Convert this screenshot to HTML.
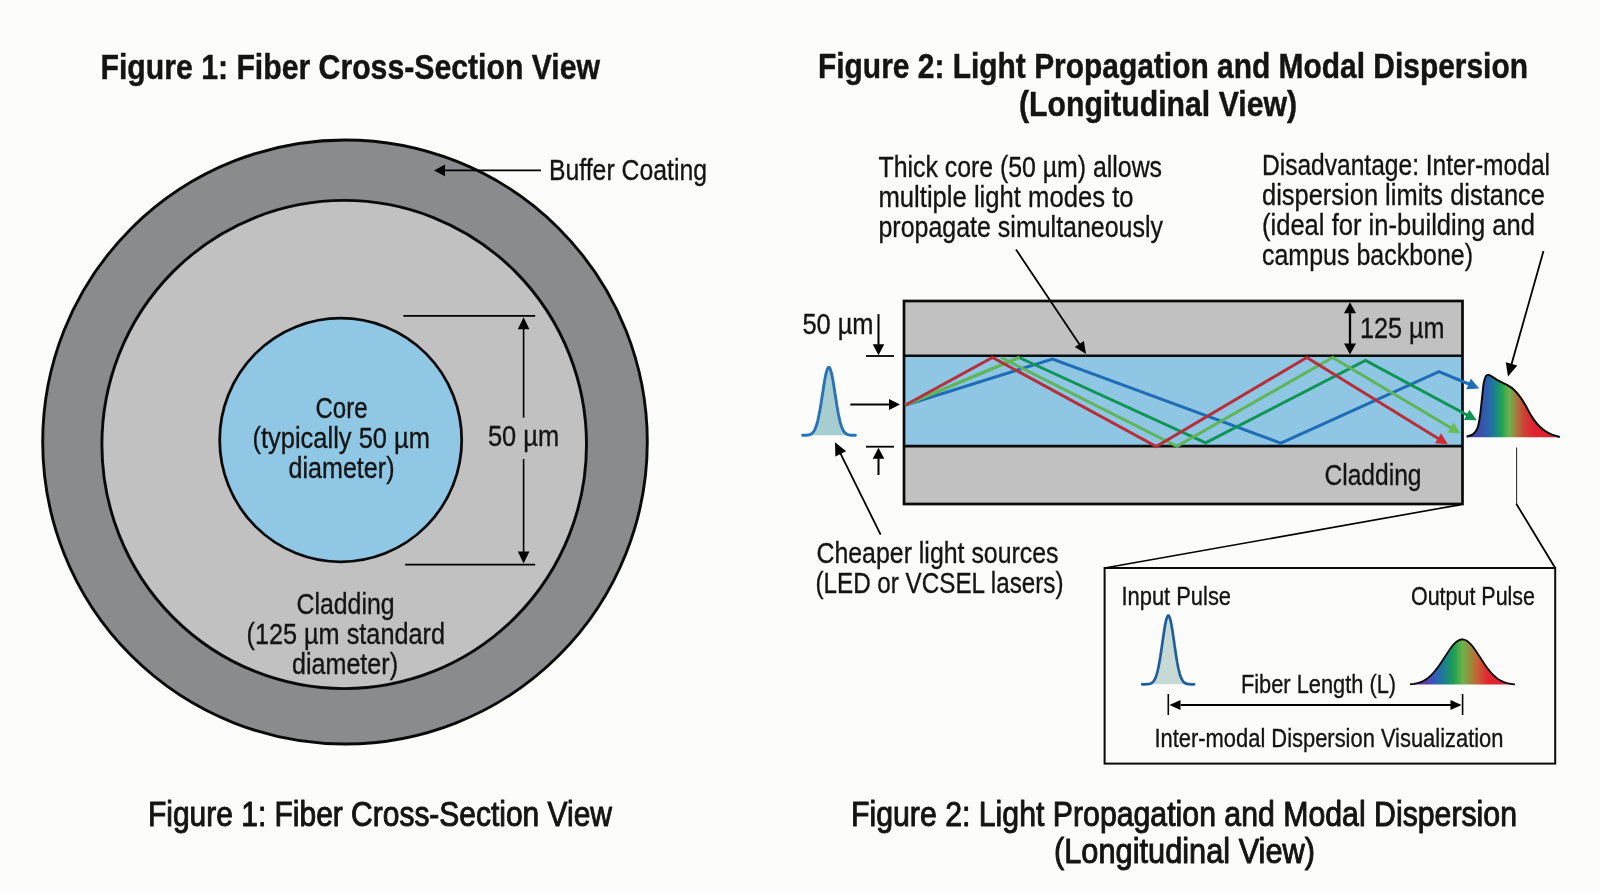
<!DOCTYPE html>
<html lang="en"><head><meta charset="utf-8"><title>Multimode fiber diagram</title>
<style>
html,body{margin:0;padding:0;background:#fcfcfa;}
body{width:1600px;height:893px;overflow:hidden;}
svg{display:block;will-change:transform;}
text{font-family:"Liberation Sans",sans-serif;}
</style></head><body>
<svg width="1600" height="893" viewBox="0 0 1600 893">
<defs>
<linearGradient id="g1" gradientUnits="userSpaceOnUse" x1="1466" y1="0" x2="1560" y2="0">
<stop offset="0" stop-color="#3b3f9e"/><stop offset="0.135" stop-color="#3d4aa8"/><stop offset="0.23" stop-color="#2b62ae"/><stop offset="0.31" stop-color="#1b8290"/><stop offset="0.38" stop-color="#20a352"/><stop offset="0.46" stop-color="#6db24c"/><stop offset="0.54" stop-color="#a8763f"/><stop offset="0.63" stop-color="#d23a33"/><stop offset="0.74" stop-color="#e3202f"/><stop offset="1" stop-color="#d82030"/>
</linearGradient>
<linearGradient id="g2" gradientUnits="userSpaceOnUse" x1="1410" y1="0" x2="1515" y2="0">
<stop offset="0" stop-color="#5d3a9c"/><stop offset="0.14" stop-color="#5d3a9c"/><stop offset="0.22" stop-color="#3b55c2"/><stop offset="0.32" stop-color="#1b7c92"/><stop offset="0.42" stop-color="#1fa152"/><stop offset="0.50" stop-color="#6bb24a"/><stop offset="0.59" stop-color="#a58238"/><stop offset="0.65" stop-color="#c85c36"/><stop offset="0.74" stop-color="#e22631"/><stop offset="1" stop-color="#d42030"/>
</linearGradient>
</defs>
<rect width="1600" height="893" fill="#fcfcfa"/>
<ellipse cx="345" cy="442" rx="302.3" ry="302" fill="#8a8b8d" stroke="#0a0a0a" stroke-width="2.9"/>
<ellipse cx="344.2" cy="444.5" rx="242.3" ry="244.1" fill="#c1c1c2" stroke="#0a0a0a" stroke-width="2.9"/>
<ellipse cx="340.7" cy="440" rx="121" ry="121.8" fill="#8fc7e4" stroke="#0a0a0a" stroke-width="2.8"/>
<line x1="541.0" y1="170.4" x2="444.0" y2="170.4" stroke="#000" stroke-width="1.8"/><polygon points="434.0,170.4 445.0,164.6 445.0,176.2" fill="#000"/>
<line x1="403.4" y1="315.8" x2="535.2" y2="315.8" stroke="#000" stroke-width="1.8"/>
<line x1="405.1" y1="564.6" x2="535.2" y2="564.6" stroke="#000" stroke-width="1.8"/>
<line x1="523.6" y1="417.7" x2="523.6" y2="328.2" stroke="#000" stroke-width="1.6"/><polygon points="523.6,317.2 529.4,329.2 517.8,329.2" fill="#000"/>
<line x1="523.6" y1="459.0" x2="523.6" y2="552.4" stroke="#000" stroke-width="1.6"/><polygon points="523.6,563.4 517.8,551.4 529.4,551.4" fill="#000"/>
<rect x="904" y="301" width="558.5" height="203.5" fill="#c1c1c1"/>
<rect x="904" y="356" width="558.5" height="90" fill="#8fc6e3"/>
<line x1="904" y1="355.8" x2="1462.5" y2="355.8" stroke="#0a0a0a" stroke-width="2.5"/>
<line x1="904" y1="446.1" x2="1462.5" y2="446.1" stroke="#0a0a0a" stroke-width="2.6"/>
<rect x="904" y="301" width="558.5" height="203" fill="none" stroke="#0a0a0a" stroke-width="2.7"/>
<path d="M905.0,405.2 L1052.5,359.0 L1280.8,443.2 L1439.0,371.7 L1470.0,384.5" fill="none" stroke="#1f6db6" stroke-width="3.0" stroke-linejoin="miter"/>
<polygon points="1479.2,388.4 1466.4,389.3 1470.8,378.6" fill="#1f6db6"/>
<path d="M1019.0,357.5 L1205.7,442.8 L1365.5,360.4 L1468.0,415.5" fill="none" stroke="#0f9454" stroke-width="3.0" stroke-linejoin="miter"/>
<polygon points="1476.8,420.3 1463.9,420.0 1469.4,409.7" fill="#0f9454"/>
<path d="M905.0,405.2 L1019.5,357.3" fill="none" stroke="#5fb558" stroke-width="3.4" stroke-linejoin="miter"/>
<path d="M1001.0,357.5 L1177.0,446.3 L1332.6,357.5 L1452.0,428.5" fill="none" stroke="#5fb558" stroke-width="3.0" stroke-linejoin="miter"/>
<polygon points="1460.5,433.5 1447.7,432.6 1453.6,422.6" fill="#68bd55"/>
<path d="M905.0,405.2 L992.5,357.5 L1156.3,446.5 L1306.8,357.5 L1439.0,439.0" fill="none" stroke="#b5303a" stroke-width="3.0" stroke-linejoin="miter"/>
<polygon points="1447.8,444.3 1435.0,443.2 1441.0,433.3" fill="#cf2b36"/>
<polygon points="1350.0,302.2 1344.0,313.2 1356.0,313.2" fill="#000"/><line x1="1350.0" y1="313.2" x2="1350.0" y2="344.6" stroke="#000" stroke-width="2.3"/><polygon points="1350.0,354.6 1344.0,343.6 1356.0,343.6" fill="#000"/>
<line x1="866" y1="356" x2="894" y2="356" stroke="#000" stroke-width="1.8"/>
<line x1="866" y1="446.7" x2="894" y2="446.7" stroke="#000" stroke-width="1.8"/>
<line x1="878.5" y1="314.1" x2="878.5" y2="345.2" stroke="#000" stroke-width="2"/><polygon points="878.5,355.2 872.7,344.2 884.3,344.2" fill="#000"/>
<line x1="878.5" y1="475.0" x2="878.5" y2="457.8" stroke="#000" stroke-width="2"/><polygon points="878.5,447.8 884.3,458.8 872.7,458.8" fill="#000"/>
<line x1="850.3" y1="404.5" x2="890.0" y2="404.5" stroke="#000" stroke-width="1.8"/><polygon points="900.0,404.5 889.0,410.0 889.0,399.0" fill="#000"/>
<line x1="1016.0" y1="249.5" x2="1079.9" y2="344.9" stroke="#000" stroke-width="1.8"/><polygon points="1086.0,354.0 1074.8,347.1 1083.9,341.0" fill="#000"/>
<line x1="1543.5" y1="251.0" x2="1511.3" y2="364.9" stroke="#000" stroke-width="1.8"/><polygon points="1508.0,376.4 1505.8,362.3 1517.3,365.5" fill="#000"/>
<line x1="880.6" y1="534.6" x2="840.3" y2="453.1" stroke="#000" stroke-width="1.8"/><polygon points="835.0,442.3 846.1,451.3 835.4,456.6" fill="#000"/>
<path d="M802.6,435.3 L803.3,435.3 L803.9,435.3 L804.6,435.3 L805.2,435.2 L805.9,435.2 L806.6,435.2 L807.2,435.1 L807.9,435.0 L808.5,434.9 L809.2,434.8 L809.9,434.6 L810.5,434.3 L811.2,433.9 L811.8,433.5 L812.5,432.9 L813.2,432.2 L813.8,431.3 L814.5,430.2 L815.1,428.8 L815.8,427.2 L816.5,425.3 L817.1,423.1 L817.8,420.6 L818.4,417.7 L819.1,414.5 L819.8,411.0 L820.4,407.2 L821.1,403.2 L821.7,399.0 L822.4,394.7 L823.1,390.4 L823.7,386.2 L824.4,382.1 L825.0,378.4 L825.7,375.1 L826.4,372.2 L827.0,370.0 L827.7,368.4 L828.3,367.5 L829.0,367.3 L829.7,367.9 L830.3,369.3 L831.0,371.3 L831.6,373.9 L832.3,377.0 L833.0,380.6 L833.6,384.6 L834.3,388.7 L834.9,393.0 L835.6,397.3 L836.3,401.6 L836.9,405.7 L837.6,409.6 L838.2,413.2 L838.9,416.5 L839.6,419.5 L840.2,422.1 L840.9,424.5 L841.5,426.5 L842.2,428.2 L842.9,429.7 L843.5,430.9 L844.2,431.8 L844.8,432.6 L845.5,433.3 L846.2,433.8 L846.8,434.2 L847.5,434.5 L848.1,434.7 L848.8,434.9 L849.5,435.0 L850.1,435.1 L850.8,435.1 L851.4,435.2 L852.1,435.2 L852.8,435.3 L853.4,435.3 L854.1,435.3 L854.7,435.3 L855.4,435.3 Z" fill="#a6cdd0"/>
<path d="M802.6,435.3 L803.3,435.3 L803.9,435.3 L804.6,435.3 L805.2,435.2 L805.9,435.2 L806.6,435.2 L807.2,435.1 L807.9,435.0 L808.5,434.9 L809.2,434.8 L809.9,434.6 L810.5,434.3 L811.2,433.9 L811.8,433.5 L812.5,432.9 L813.2,432.2 L813.8,431.3 L814.5,430.2 L815.1,428.8 L815.8,427.2 L816.5,425.3 L817.1,423.1 L817.8,420.6 L818.4,417.7 L819.1,414.5 L819.8,411.0 L820.4,407.2 L821.1,403.2 L821.7,399.0 L822.4,394.7 L823.1,390.4 L823.7,386.2 L824.4,382.1 L825.0,378.4 L825.7,375.1 L826.4,372.2 L827.0,370.0 L827.7,368.4 L828.3,367.5 L829.0,367.3 L829.7,367.9 L830.3,369.3 L831.0,371.3 L831.6,373.9 L832.3,377.0 L833.0,380.6 L833.6,384.6 L834.3,388.7 L834.9,393.0 L835.6,397.3 L836.3,401.6 L836.9,405.7 L837.6,409.6 L838.2,413.2 L838.9,416.5 L839.6,419.5 L840.2,422.1 L840.9,424.5 L841.5,426.5 L842.2,428.2 L842.9,429.7 L843.5,430.9 L844.2,431.8 L844.8,432.6 L845.5,433.3 L846.2,433.8 L846.8,434.2 L847.5,434.5 L848.1,434.7 L848.8,434.9 L849.5,435.0 L850.1,435.1 L850.8,435.1 L851.4,435.2 L852.1,435.2 L852.8,435.3 L853.4,435.3 L854.1,435.3 L854.7,435.3 L855.4,435.3" fill="none" stroke="#2a72b8" stroke-width="2.9" stroke-linecap="round"/>
<path d="M1466.6,436.6 C1467.7,436.2 1471.2,435.6 1473.1,434.1 C1474.9,432.6 1476.5,430.8 1477.7,427.5 C1478.9,424.2 1479.5,419.3 1480.2,414.4 C1480.9,409.5 1481.4,403.5 1482.0,398.3 C1482.6,393.1 1483.1,386.8 1483.7,383.2 C1484.3,379.6 1485.0,378.0 1485.7,376.6 C1486.5,375.2 1487.3,375.2 1488.2,375.1 C1489.1,375.0 1489.6,375.2 1491.3,376.1 C1493.0,377.0 1495.8,379.3 1498.3,380.7 C1500.8,382.1 1503.9,383.3 1506.4,384.7 C1508.9,386.1 1511.1,387.1 1513.4,389.2 C1515.8,391.3 1518.5,394.6 1520.5,397.3 C1522.5,400.0 1523.7,402.1 1525.5,405.3 C1527.3,408.5 1529.6,413.2 1531.6,416.4 C1533.6,419.6 1535.6,422.2 1537.6,424.5 C1539.6,426.8 1541.5,428.4 1543.7,430.0 C1545.9,431.6 1548.0,432.9 1550.7,434.1 C1553.4,435.3 1558.3,436.6 1559.8,437.1 L1559.8,437.3 L1466.6,437.3 Z" fill="url(#g1)"/>
<path d="M1466.6,436.6 C1467.7,436.2 1471.2,435.6 1473.1,434.1 C1474.9,432.6 1476.5,430.8 1477.7,427.5 C1478.9,424.2 1479.5,419.3 1480.2,414.4 C1480.9,409.5 1481.4,403.5 1482.0,398.3 C1482.6,393.1 1483.1,386.8 1483.7,383.2 C1484.3,379.6 1485.0,378.0 1485.7,376.6 C1486.5,375.2 1487.3,375.2 1488.2,375.1 C1489.1,375.0 1489.6,375.2 1491.3,376.1 C1493.0,377.0 1495.8,379.3 1498.3,380.7 C1500.8,382.1 1503.9,383.3 1506.4,384.7 C1508.9,386.1 1511.1,387.1 1513.4,389.2 C1515.8,391.3 1518.5,394.6 1520.5,397.3 C1522.5,400.0 1523.7,402.1 1525.5,405.3 C1527.3,408.5 1529.6,413.2 1531.6,416.4 C1533.6,419.6 1535.6,422.2 1537.6,424.5 C1539.6,426.8 1541.5,428.4 1543.7,430.0 C1545.9,431.6 1548.0,432.9 1550.7,434.1 C1553.4,435.3 1558.3,436.6 1559.8,437.1" fill="none" stroke="#0a0a0a" stroke-width="2"/>
<line x1="1461" y1="504.6" x2="1104.6" y2="568" stroke="#000" stroke-width="1.6"/>
<line x1="1516.6" y1="447.5" x2="1516.6" y2="504.6" stroke="#333" stroke-width="1.1"/>
<line x1="1516.4" y1="504" x2="1555.2" y2="568" stroke="#000" stroke-width="1.8"/>
<rect x="1104.6" y="568" width="450.6" height="195.6" fill="#fcfcfa" stroke="#0a0a0a" stroke-width="2"/>
<path d="M1142.2,684.3 L1142.8,684.3 L1143.5,684.3 L1144.1,684.3 L1144.8,684.3 L1145.4,684.3 L1146.1,684.2 L1146.7,684.2 L1147.4,684.2 L1148.0,684.1 L1148.7,684.0 L1149.3,683.9 L1150.0,683.7 L1150.6,683.5 L1151.3,683.2 L1151.9,682.8 L1152.6,682.3 L1153.2,681.7 L1153.9,680.8 L1154.5,679.8 L1155.2,678.5 L1155.8,677.0 L1156.5,675.1 L1157.1,672.9 L1157.8,670.3 L1158.4,667.4 L1159.1,664.1 L1159.7,660.5 L1160.4,656.5 L1161.0,652.3 L1161.7,647.8 L1162.3,643.3 L1163.0,638.7 L1163.6,634.2 L1164.3,630.0 L1164.9,626.1 L1165.6,622.6 L1166.2,619.8 L1166.9,617.6 L1167.5,616.2 L1168.2,615.6 L1168.8,615.8 L1169.4,616.9 L1170.1,618.7 L1170.7,621.3 L1171.4,624.4 L1172.0,628.1 L1172.7,632.2 L1173.3,636.6 L1174.0,641.1 L1174.6,645.7 L1175.3,650.2 L1175.9,654.6 L1176.6,658.7 L1177.2,662.5 L1177.9,665.9 L1178.5,669.0 L1179.2,671.7 L1179.8,674.1 L1180.5,676.1 L1181.1,677.8 L1181.8,679.2 L1182.4,680.4 L1183.1,681.3 L1183.7,682.0 L1184.4,682.6 L1185.0,683.1 L1185.7,683.4 L1186.3,683.7 L1187.0,683.8 L1187.6,684.0 L1188.3,684.1 L1188.9,684.1 L1189.6,684.2 L1190.2,684.2 L1190.9,684.3 L1191.5,684.3 L1192.2,684.3 L1192.8,684.3 L1193.5,684.3 L1194.1,684.3 Z" fill="#c6d9d5"/>
<path d="M1142.2,684.3 L1142.8,684.3 L1143.5,684.3 L1144.1,684.3 L1144.8,684.3 L1145.4,684.3 L1146.1,684.2 L1146.7,684.2 L1147.4,684.2 L1148.0,684.1 L1148.7,684.0 L1149.3,683.9 L1150.0,683.7 L1150.6,683.5 L1151.3,683.2 L1151.9,682.8 L1152.6,682.3 L1153.2,681.7 L1153.9,680.8 L1154.5,679.8 L1155.2,678.5 L1155.8,677.0 L1156.5,675.1 L1157.1,672.9 L1157.8,670.3 L1158.4,667.4 L1159.1,664.1 L1159.7,660.5 L1160.4,656.5 L1161.0,652.3 L1161.7,647.8 L1162.3,643.3 L1163.0,638.7 L1163.6,634.2 L1164.3,630.0 L1164.9,626.1 L1165.6,622.6 L1166.2,619.8 L1166.9,617.6 L1167.5,616.2 L1168.2,615.6 L1168.8,615.8 L1169.4,616.9 L1170.1,618.7 L1170.7,621.3 L1171.4,624.4 L1172.0,628.1 L1172.7,632.2 L1173.3,636.6 L1174.0,641.1 L1174.6,645.7 L1175.3,650.2 L1175.9,654.6 L1176.6,658.7 L1177.2,662.5 L1177.9,665.9 L1178.5,669.0 L1179.2,671.7 L1179.8,674.1 L1180.5,676.1 L1181.1,677.8 L1181.8,679.2 L1182.4,680.4 L1183.1,681.3 L1183.7,682.0 L1184.4,682.6 L1185.0,683.1 L1185.7,683.4 L1186.3,683.7 L1187.0,683.8 L1187.6,684.0 L1188.3,684.1 L1188.9,684.1 L1189.6,684.2 L1190.2,684.2 L1190.9,684.3 L1191.5,684.3 L1192.2,684.3 L1192.8,684.3 L1193.5,684.3 L1194.1,684.3" fill="none" stroke="#1f5e9e" stroke-width="2.7" stroke-linecap="round"/>
<path d="M1410.0,684.4 L1411.3,684.2 L1412.6,684.1 L1413.9,683.9 L1415.2,683.6 L1416.6,683.3 L1417.9,683.0 L1419.2,682.6 L1420.5,682.1 L1421.8,681.6 L1423.1,681.0 L1424.4,680.3 L1425.8,679.5 L1427.1,678.6 L1428.4,677.6 L1429.7,676.5 L1431.0,675.3 L1432.3,674.0 L1433.6,672.5 L1434.9,671.0 L1436.2,669.4 L1437.6,667.6 L1438.9,665.8 L1440.2,663.9 L1441.5,662.0 L1442.8,660.0 L1444.1,657.9 L1445.4,655.9 L1446.8,653.9 L1448.1,651.9 L1449.4,650.0 L1450.7,648.1 L1452.0,646.4 L1453.3,644.9 L1454.6,643.4 L1455.9,642.2 L1457.2,641.2 L1458.6,640.4 L1459.9,639.8 L1461.2,639.5 L1462.5,639.4 L1463.8,639.6 L1465.1,640.0 L1466.4,640.6 L1467.8,641.5 L1469.1,642.6 L1470.4,643.9 L1471.7,645.3 L1473.0,646.9 L1474.3,648.7 L1475.6,650.5 L1476.9,652.5 L1478.2,654.5 L1479.6,656.5 L1480.9,658.5 L1482.2,660.6 L1483.5,662.6 L1484.8,664.5 L1486.1,666.4 L1487.4,668.2 L1488.8,669.9 L1490.1,671.5 L1491.4,673.0 L1492.7,674.4 L1494.0,675.7 L1495.3,676.8 L1496.6,677.9 L1497.9,678.9 L1499.2,679.7 L1500.6,680.5 L1501.9,681.1 L1503.2,681.7 L1504.5,682.3 L1505.8,682.7 L1507.1,683.1 L1508.4,683.4 L1509.8,683.7 L1511.1,683.9 L1512.4,684.1 L1513.7,684.3 L1515.0,684.4 Z" fill="url(#g2)"/>
<path d="M1410.0,684.4 L1411.3,684.2 L1412.6,684.1 L1413.9,683.9 L1415.2,683.6 L1416.6,683.3 L1417.9,683.0 L1419.2,682.6 L1420.5,682.1 L1421.8,681.6 L1423.1,681.0 L1424.4,680.3 L1425.8,679.5 L1427.1,678.6 L1428.4,677.6 L1429.7,676.5 L1431.0,675.3 L1432.3,674.0 L1433.6,672.5 L1434.9,671.0 L1436.2,669.4 L1437.6,667.6 L1438.9,665.8 L1440.2,663.9 L1441.5,662.0 L1442.8,660.0 L1444.1,657.9 L1445.4,655.9 L1446.8,653.9 L1448.1,651.9 L1449.4,650.0 L1450.7,648.1 L1452.0,646.4 L1453.3,644.9 L1454.6,643.4 L1455.9,642.2 L1457.2,641.2 L1458.6,640.4 L1459.9,639.8 L1461.2,639.5 L1462.5,639.4 L1463.8,639.6 L1465.1,640.0 L1466.4,640.6 L1467.8,641.5 L1469.1,642.6 L1470.4,643.9 L1471.7,645.3 L1473.0,646.9 L1474.3,648.7 L1475.6,650.5 L1476.9,652.5 L1478.2,654.5 L1479.6,656.5 L1480.9,658.5 L1482.2,660.6 L1483.5,662.6 L1484.8,664.5 L1486.1,666.4 L1487.4,668.2 L1488.8,669.9 L1490.1,671.5 L1491.4,673.0 L1492.7,674.4 L1494.0,675.7 L1495.3,676.8 L1496.6,677.9 L1497.9,678.9 L1499.2,679.7 L1500.6,680.5 L1501.9,681.1 L1503.2,681.7 L1504.5,682.3 L1505.8,682.7 L1507.1,683.1 L1508.4,683.4 L1509.8,683.7 L1511.1,683.9 L1512.4,684.1 L1513.7,684.3 L1515.0,684.4" fill="none" stroke="#0a0a0a" stroke-width="1.8"/>
<line x1="1168.3" y1="694" x2="1168.3" y2="715" stroke="#000" stroke-width="1.6"/>
<line x1="1462.6" y1="694" x2="1462.6" y2="715" stroke="#000" stroke-width="1.6"/>
<polygon points="1169.5,705.0 1180.5,710.0 1180.5,700.0" fill="#000"/><line x1="1180.5" y1="705.0" x2="1451.5" y2="705.0" stroke="#000" stroke-width="1.8"/><polygon points="1461.5,705.0 1450.5,710.0 1450.5,700.0" fill="#000"/>
<text x="100.49" y="78.6" font-size="35" font-weight="bold" fill="#141414" textLength="499.51" lengthAdjust="spacingAndGlyphs" stroke="#141414" stroke-width="0.45">Figure 1: Fiber Cross-Section View</text>
<text x="817.99" y="78.4" font-size="35" font-weight="bold" fill="#141414" textLength="710.02" lengthAdjust="spacingAndGlyphs" stroke="#141414" stroke-width="0.45">Figure 2: Light Propagation and Modal Dispersion</text>
<text x="1018.99" y="115.6" font-size="35" font-weight="bold" fill="#141414" textLength="278.01" lengthAdjust="spacingAndGlyphs" stroke="#141414" stroke-width="0.45">(Longitudinal View)</text>
<text x="548.96" y="179.6" font-size="30" font-weight="normal" fill="#141414" textLength="158.03" lengthAdjust="spacingAndGlyphs" stroke="#141414" stroke-width="0.35">Buffer Coating</text>
<text x="315.46" y="417.8" font-size="29.5" font-weight="normal" fill="#141414" textLength="52.06" lengthAdjust="spacingAndGlyphs" stroke="#141414" stroke-width="0.35">Core</text>
<text x="252.48" y="447.6" font-size="29.5" font-weight="normal" fill="#141414" textLength="177.53" lengthAdjust="spacingAndGlyphs" stroke="#141414" stroke-width="0.35">(typically 50 µm</text>
<text x="288.48" y="478.0" font-size="29.5" font-weight="normal" fill="#141414" textLength="106.04" lengthAdjust="spacingAndGlyphs" stroke="#141414" stroke-width="0.35">diameter)</text>
<text x="487.95" y="445.5" font-size="29.5" font-weight="normal" fill="#141414" textLength="71.11" lengthAdjust="spacingAndGlyphs" stroke="#141414" stroke-width="0.35">50 µm</text>
<text x="296.47" y="613.5" font-size="28.7" font-weight="normal" fill="#141414" textLength="98.08" lengthAdjust="spacingAndGlyphs" stroke="#141414" stroke-width="0.35">Cladding</text>
<text x="246.48" y="643.6" font-size="28.7" font-weight="normal" fill="#141414" textLength="198.54" lengthAdjust="spacingAndGlyphs" stroke="#141414" stroke-width="0.35">(125 µm standard</text>
<text x="291.97" y="673.5" font-size="28.7" font-weight="normal" fill="#141414" textLength="106.06" lengthAdjust="spacingAndGlyphs" stroke="#141414" stroke-width="0.35">diameter)</text>
<text x="878.50" y="177.0" font-size="29.2" font-weight="normal" fill="#141414" textLength="283.51" lengthAdjust="spacingAndGlyphs" stroke="#141414" stroke-width="0.35">Thick core (50 µm) allows</text>
<text x="878.49" y="207.3" font-size="29.2" font-weight="normal" fill="#141414" textLength="255.03" lengthAdjust="spacingAndGlyphs" stroke="#141414" stroke-width="0.35">multiple light modes to</text>
<text x="878.49" y="236.9" font-size="29.2" font-weight="normal" fill="#141414" textLength="284.52" lengthAdjust="spacingAndGlyphs" stroke="#141414" stroke-width="0.35">propagate simultaneously</text>
<text x="1261.98" y="175.0" font-size="29.2" font-weight="normal" fill="#141414" textLength="288.04" lengthAdjust="spacingAndGlyphs" stroke="#141414" stroke-width="0.35">Disadvantage: Inter-modal</text>
<text x="1261.99" y="205.0" font-size="29.2" font-weight="normal" fill="#141414" textLength="283.02" lengthAdjust="spacingAndGlyphs" stroke="#141414" stroke-width="0.35">dispersion limits distance</text>
<text x="1261.98" y="235.0" font-size="29.2" font-weight="normal" fill="#141414" textLength="273.03" lengthAdjust="spacingAndGlyphs" stroke="#141414" stroke-width="0.35">(ideal for in-building and</text>
<text x="1261.99" y="264.6" font-size="29.2" font-weight="normal" fill="#141414" textLength="211.04" lengthAdjust="spacingAndGlyphs" stroke="#141414" stroke-width="0.35">campus backbone)</text>
<text x="802.45" y="333.7" font-size="29.5" font-weight="normal" fill="#141414" textLength="71.10" lengthAdjust="spacingAndGlyphs" stroke="#141414" stroke-width="0.35">50 µm</text>
<text x="1359.97" y="338.3" font-size="29.5" font-weight="normal" fill="#141414" textLength="84.60" lengthAdjust="spacingAndGlyphs" stroke="#141414" stroke-width="0.35">125 µm</text>
<text x="1324.45" y="485.0" font-size="29.2" font-weight="normal" fill="#141414" textLength="97.09" lengthAdjust="spacingAndGlyphs" stroke="#141414" stroke-width="0.35">Cladding</text>
<text x="816.49" y="563.1" font-size="29.5" font-weight="normal" fill="#141414" textLength="242.01" lengthAdjust="spacingAndGlyphs" stroke="#141414" stroke-width="0.35">Cheaper light sources</text>
<text x="815.48" y="593.1" font-size="29.5" font-weight="normal" fill="#141414" textLength="248.03" lengthAdjust="spacingAndGlyphs" stroke="#141414" stroke-width="0.35">(LED or VCSEL lasers)</text>
<text x="1121.45" y="604.6" font-size="26" font-weight="normal" fill="#141414" textLength="109.57" lengthAdjust="spacingAndGlyphs" stroke="#141414" stroke-width="0.35">Input Pulse</text>
<text x="1410.98" y="604.7" font-size="26" font-weight="normal" fill="#141414" textLength="124.03" lengthAdjust="spacingAndGlyphs" stroke="#141414" stroke-width="0.35">Output Pulse</text>
<text x="1240.96" y="693.0" font-size="26" font-weight="normal" fill="#141414" textLength="155.06" lengthAdjust="spacingAndGlyphs" stroke="#141414" stroke-width="0.35">Fiber Length (L)</text>
<text x="1154.47" y="747.4" font-size="25.5" font-weight="normal" fill="#141414" textLength="349.02" lengthAdjust="spacingAndGlyphs" stroke="#141414" stroke-width="0.35">Inter-modal Dispersion Visualization</text>
<text x="147.99" y="825.8" font-size="35" font-weight="normal" fill="#141414" textLength="464.01" lengthAdjust="spacingAndGlyphs" stroke="#141414" stroke-width="1.0" stroke-linejoin="round">Figure 1: Fiber Cross-Section View</text>
<text x="850.99" y="826.2" font-size="35" font-weight="normal" fill="#141414" textLength="666.02" lengthAdjust="spacingAndGlyphs" stroke="#141414" stroke-width="1.0" stroke-linejoin="round">Figure 2: Light Propagation and Modal Dispersion</text>
<text x="1053.99" y="862.6" font-size="35" font-weight="normal" fill="#141414" textLength="261.04" lengthAdjust="spacingAndGlyphs" stroke="#141414" stroke-width="1.0" stroke-linejoin="round">(Longitudinal View)</text>
</svg>
</body></html>
